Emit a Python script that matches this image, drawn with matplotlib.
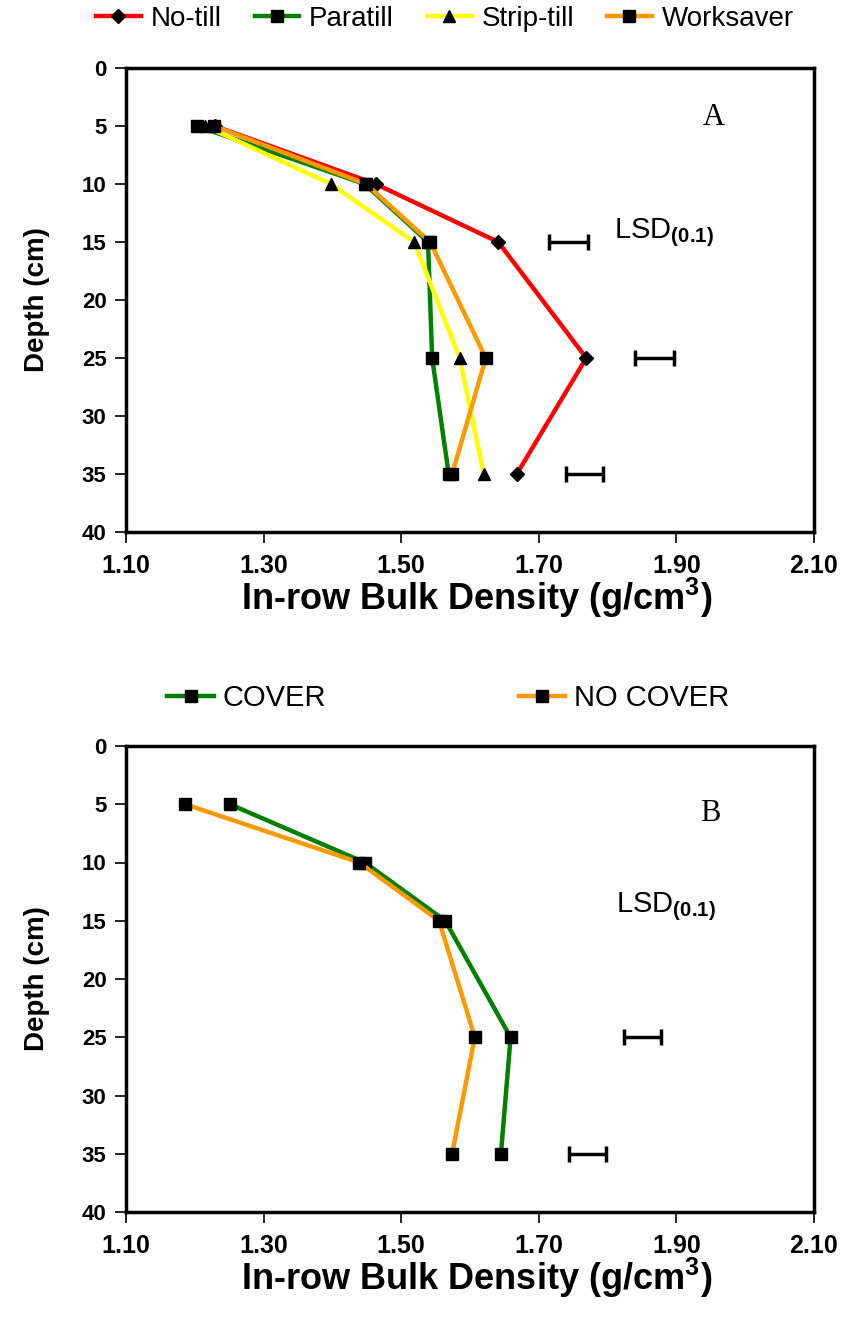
import matplotlib
matplotlib.use('Agg')
import matplotlib.pyplot as plt

plt.rcParams['font.family'] = ['Liberation Sans', 'DejaVu Sans']
plt.rcParams['mathtext.fontset'] = 'custom'
plt.rcParams['mathtext.rm'] = 'Liberation Sans'
plt.rcParams['mathtext.bf'] = 'Liberation Sans:bold'

depth = [5, 10, 15, 25, 35]

# panel A - tillage
no_till = [1.229, 1.463, 1.641, 1.769, 1.668]
paratill = [1.203, 1.447, 1.539, 1.545, 1.569]
strip_till = [1.215, 1.398, 1.519, 1.585, 1.620]
worksaver = [1.228, 1.449, 1.542, 1.623, 1.574]

lsd_a_depth = [15, 25, 35]
lsd_a_center = [1.743, 1.868, 1.767]
lsd_a_half = [0.028, 0.028, 0.027]

# panel B - cover
cover = [1.251, 1.447, 1.564, 1.659, 1.645]
no_cover = [1.186, 1.439, 1.555, 1.607, 1.574]

lsd_b_depth = [25, 35]
lsd_b_center = [1.851, 1.771]
lsd_b_half = [0.027, 0.027]

xticks = [1.10, 1.30, 1.50, 1.70, 1.90, 2.10]
yticks = [0, 5, 10, 15, 20, 25, 30, 35, 40]

W, H = 849, 1327
fig = plt.figure(figsize=(W / 100, H / 100), dpi=100)

ax1 = fig.add_axes([126 / W, 1 - 532 / H, 688 / W, 464 / H])
ax2 = fig.add_axes([126 / W, 1 - 1212 / H, 688 / W, 466 / H])


def style_axis(ax):
    ax.set_xlim(1.10, 2.10)
    ax.set_ylim(40, 0)
    ax.set_xticks(xticks)
    ax.set_xticklabels([f"{t:.2f}" for t in xticks], fontsize=18, fontweight='bold')
    ax.set_yticks(yticks)
    ax.set_yticklabels([str(t) for t in yticks], fontsize=16, fontweight='bold')
    ax.tick_params(axis='both', direction='out', length=8, width=1.2, pad=6)
    ax.tick_params(axis='x', pad=8)
    for s in ax.spines.values():
        s.set_linewidth(2.5)
    ax.set_xlabel(r'In-row Bulk Density (g/cm$^{\mathbf{3}}$)', fontsize=26, fontweight='bold')
    ax.xaxis.set_label_coords(0.51, -0.142)
    ax.xaxis.label.set_va('center')
    ax.set_ylabel('Depth (cm)', fontsize=20, fontweight='bold')
    ax.yaxis.set_label_coords(-0.129, 0.5)
    ax.yaxis.label.set_va('center')


lw = 3.2
ax1.plot(no_till, depth, color='#ff0000', lw=lw, marker='D', ms=7, mfc='black', mec='black', label='No-till')
ax1.plot(paratill, depth, color='#008000', lw=lw, marker='s', ms=9, mfc='black', mec='black', label='Paratill')
ax1.plot(strip_till, depth, color='#ffff00', lw=lw, marker='^', ms=9, mfc='black', mec='black', label='Strip-till')
ax1.plot(worksaver, depth, color='#ff9900', lw=lw, marker='s', ms=9, mfc='black', mec='black', label='Worksaver')
ax1.errorbar(lsd_a_center, lsd_a_depth, xerr=lsd_a_half, fmt='none', ecolor='black',
             elinewidth=2.5, capsize=6, capthick=2.5)
ax1.text(1.809, 14.2, r'LSD$_{\mathbf{(0.1)}}$', fontsize=21, va='center')
ax1.text(1.938, 4.3, 'A', fontsize=22, family='Liberation Serif', va='center')
style_axis(ax1)

ax2.plot(cover, depth, color='#008000', lw=lw, marker='s', ms=8, mfc='black', mec='black', label='COVER')
ax2.plot(no_cover, depth, color='#ff9900', lw=lw, marker='s', ms=8, mfc='black', mec='black', label='NO COVER')
ax2.errorbar(lsd_b_center, lsd_b_depth, xerr=lsd_b_half, fmt='none', ecolor='black',
             elinewidth=2.5, capsize=6, capthick=2.5)
ax2.text(1.812, 13.8, r'LSD$_{\mathbf{(0.1)}}$', fontsize=21, va='center')
ax2.text(1.935, 5.8, 'B', fontsize=22, family='Liberation Serif', va='center')
style_axis(ax2)

h1, l1 = ax1.get_legend_handles_labels()
fig.legend(h1, l1, loc='center', bbox_to_anchor=(0.524, 1 - 19 / H), ncol=4, frameon=False,
           fontsize=20, handlelength=1.6, handletextpad=0.35, columnspacing=1.2, borderaxespad=0)
h2, l2 = ax2.get_legend_handles_labels()
fig.legend(h2, l2, loc='center', bbox_to_anchor=(0.528, 1 - 698 / H), ncol=2, frameon=False,
           fontsize=21, handlelength=1.6, handletextpad=0.3, columnspacing=6.6, borderaxespad=0)

fig.savefig('out.png', dpi=100)
